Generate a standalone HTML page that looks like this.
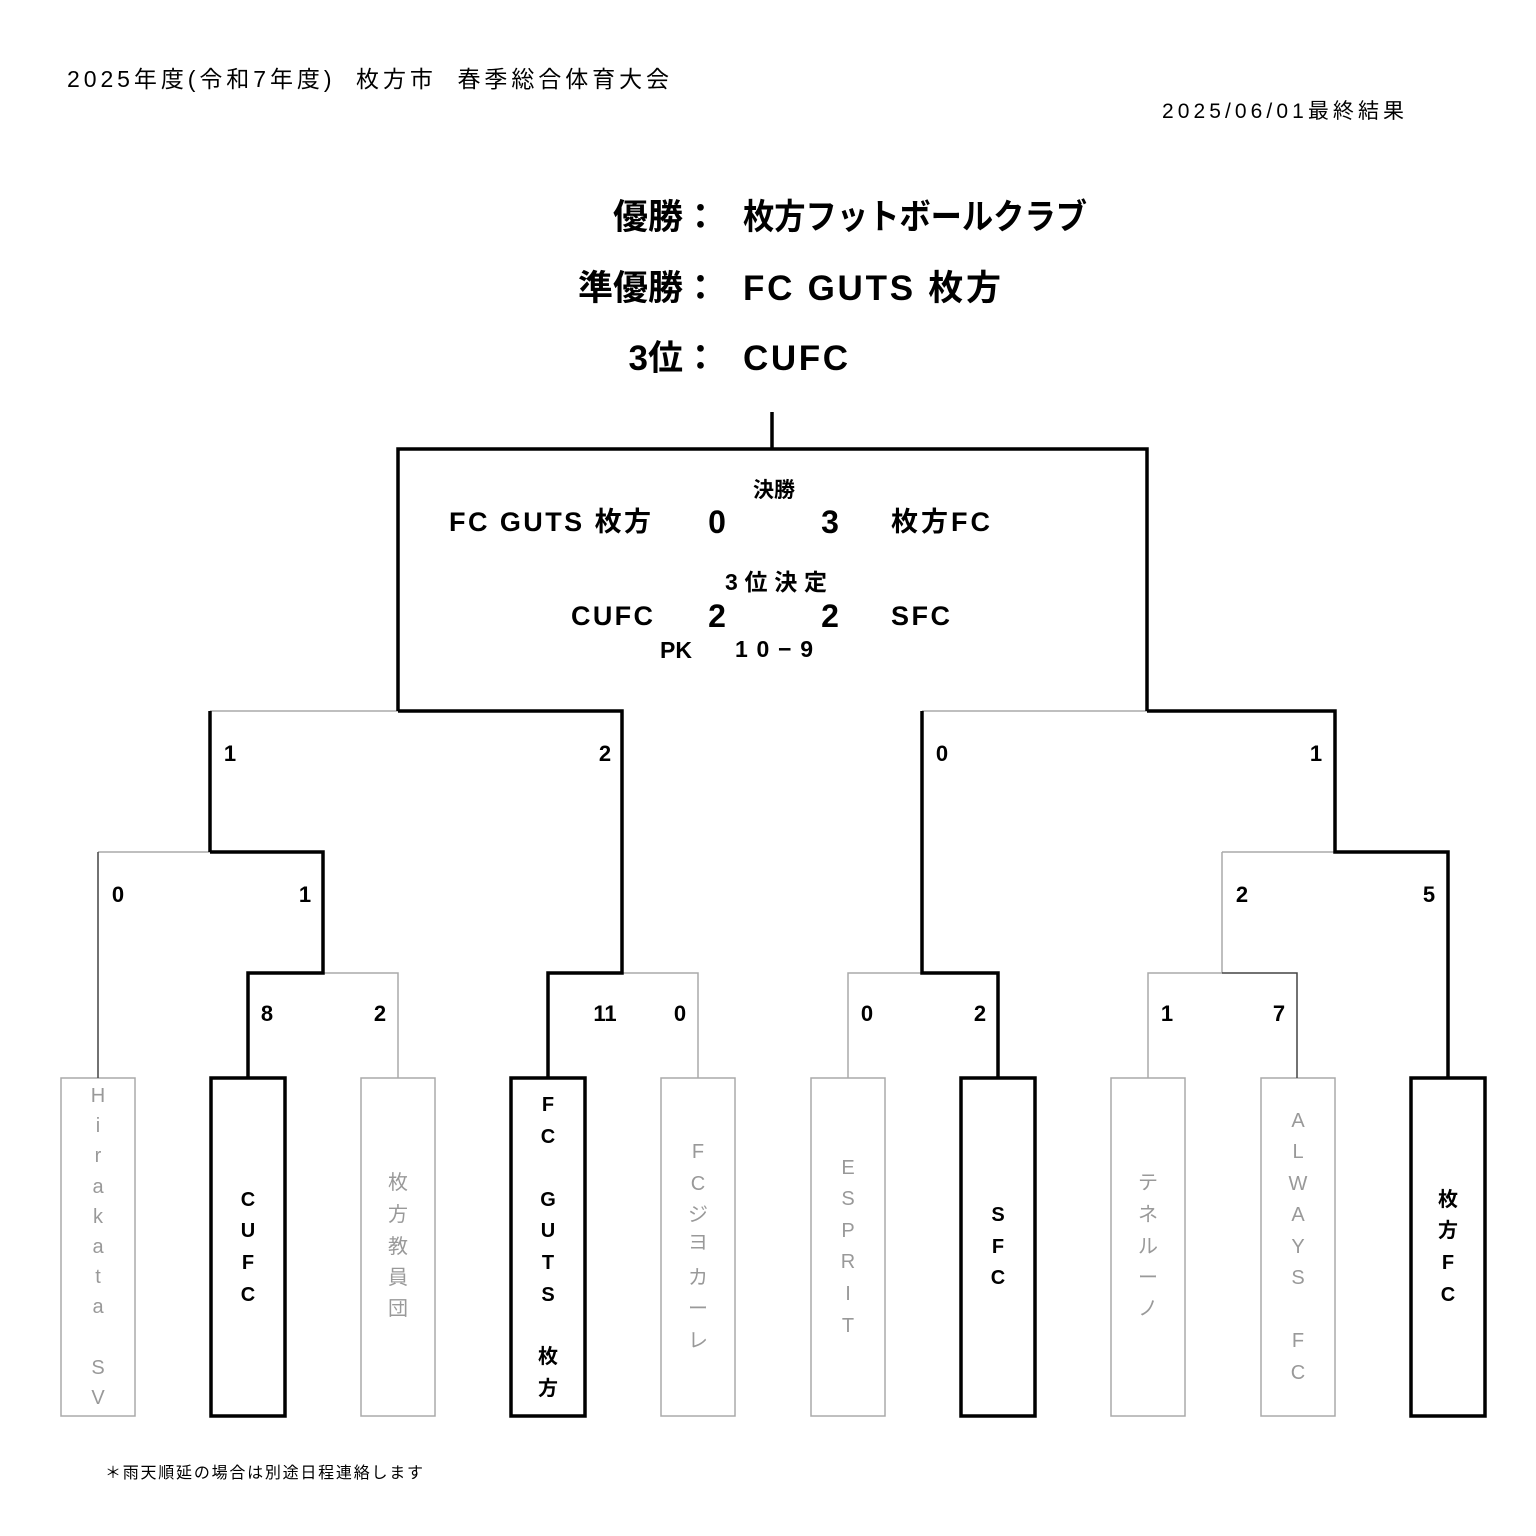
<!DOCTYPE html>
<html><head><meta charset="utf-8"><style>
body{margin:0;background:#fff}
svg{display:block}
text{font-family:"Liberation Sans","Noto Sans CJK JP",sans-serif}
.b{font-weight:bold}
.g{fill:#999}
</style></head><body>
<svg width="1536" height="1536" viewBox="0 0 1536 1536" xmlns="http://www.w3.org/2000/svg">
<text x="67" y="87" font-size="23" xml:space="preserve" textLength="602" lengthAdjust="spacing">2025年度(令和7年度)  枚方市  春季総合体育大会</text>
<text x="1162" y="118" font-size="21" textLength="242" lengthAdjust="spacing">2025/06/01最終結果</text>

<g class="b" font-size="35">
<text x="718" y="229" text-anchor="end">優勝：</text>
<text x="743" y="229" textLength="344" lengthAdjust="spacingAndGlyphs">枚方フットボールクラブ</text>
<text x="718" y="300" text-anchor="end">準優勝：</text>
<text x="743" y="300" textLength="258" lengthAdjust="spacing">FC GUTS 枚方</text>
<text x="718" y="370" text-anchor="end">3位：</text>
<text x="743" y="370" textLength="105" lengthAdjust="spacing">CUFC</text>
</g>

<g class="b" text-anchor="middle">
<text x="774" y="497" font-size="21">決勝</text>
<text x="449" y="531" font-size="27" text-anchor="start" textLength="202" lengthAdjust="spacing">FC GUTS 枚方</text>
<text x="717" y="533" font-size="32">0</text>
<text x="830" y="533" font-size="32">3</text>
<text x="891" y="531" font-size="27" text-anchor="start" textLength="99" lengthAdjust="spacing">枚方FC</text>
<text x="776" y="590" font-size="23" textLength="102" lengthAdjust="spacing">3位決定</text>
<text x="571" y="625" font-size="27" text-anchor="start" textLength="82" lengthAdjust="spacing">CUFC</text>
<text x="717" y="627" font-size="32">2</text>
<text x="830" y="627" font-size="32">2</text>
<text x="891" y="625" font-size="27" text-anchor="start" textLength="59" lengthAdjust="spacing">SFC</text>
<text x="676" y="658" font-size="23">PK</text>
<text x="774" y="657" font-size="23" textLength="78" lengthAdjust="spacing">10−9</text>
</g>

<g stroke="#aaa" stroke-width="1.5" fill="none">
<path d="M210 711H398M922 711H1147M98 852H210M1222 852H1335M1222 852V973M323 973H398V1078M622 973H698V1078M848 1078V973H922M1148 1078V973H1222"/>
<rect x="61" y="1078" width="74" height="338"/>
<rect x="361" y="1078" width="74" height="338"/>
<rect x="661" y="1078" width="74" height="338"/>
<rect x="811" y="1078" width="74" height="338"/>
<rect x="1111" y="1078" width="74" height="338"/>
<rect x="1261" y="1078" width="74" height="338"/>
</g>
<g stroke="#444" stroke-width="1.5" fill="none">
<path d="M98 852V1078M1222 973H1297V1078"/>
</g>
<g stroke="#000" stroke-width="3.5" fill="none">
<path d="M772 412V449M398 711V449H1147V711M398 711H622V973H548V1078M210 852V711M210 852H323V973H248V1078M1147 711H1335V852H1448V1078M922 711V973H998V1078"/>
<rect x="211" y="1078" width="74" height="338"/>
<rect x="511" y="1078" width="74" height="338"/>
<rect x="961" y="1078" width="74" height="338"/>
<rect x="1411" y="1078" width="74" height="338"/>
</g>

<g class="b" font-size="22" text-anchor="middle">
<text x="230" y="761">1</text><text x="605" y="761">2</text><text x="942" y="761">0</text><text x="1316" y="761">1</text>
<text x="118" y="902">0</text><text x="305" y="902">1</text><text x="1242" y="902">2</text><text x="1429" y="902">5</text>
<text x="267" y="1021">8</text><text x="380" y="1021">2</text><text x="605" y="1021">11</text><text x="680" y="1021">0</text>
<text x="867" y="1021">0</text><text x="980" y="1021">2</text><text x="1167" y="1021">1</text><text x="1279" y="1021">7</text>
</g>

<g font-size="20" text-anchor="middle" dominant-baseline="central">
<g class="g">
<text x="98" y="1096">H</text><text x="98" y="1126">i</text><text x="98" y="1156">r</text><text x="98" y="1187">a</text><text x="98" y="1217">k</text><text x="98" y="1247">a</text><text x="98" y="1277">t</text><text x="98" y="1307">a</text><text x="98" y="1368">S</text><text x="98" y="1398">V</text>
<text x="398" y="1183">枚</text><text x="398" y="1215">方</text><text x="398" y="1247">教</text><text x="398" y="1278">員</text><text x="398" y="1309">団</text>
<text x="698" y="1152">F</text><text x="698" y="1184">C</text><text x="698" y="1215">ジ</text><text x="698" y="1243">ヨ</text><text x="698" y="1278">カ</text><text x="698" y="1309">ー</text><text x="698" y="1341">レ</text>
<text x="848" y="1168">E</text><text x="848" y="1199">S</text><text x="848" y="1231">P</text><text x="848" y="1262">R</text><text x="848" y="1294">I</text><text x="848" y="1326">T</text>
<text x="1148" y="1183">テ</text><text x="1148" y="1215">ネ</text><text x="1148" y="1247">ル</text><text x="1148" y="1278">ー</text><text x="1148" y="1309">ノ</text>
<text x="1298" y="1121">A</text><text x="1298" y="1152">L</text><text x="1298" y="1184">W</text><text x="1298" y="1215">A</text><text x="1298" y="1247">Y</text><text x="1298" y="1278">S</text><text x="1298" y="1341">F</text><text x="1298" y="1373">C</text>
</g>
<g class="b">
<text x="248" y="1200">C</text><text x="248" y="1231">U</text><text x="248" y="1263">F</text><text x="248" y="1295">C</text>
<text x="548" y="1105">F</text><text x="548" y="1137">C</text><text x="548" y="1200">G</text><text x="548" y="1231">U</text><text x="548" y="1263">T</text><text x="548" y="1295">S</text><text x="548" y="1357">枚</text><text x="548" y="1389">方</text>
<text x="998" y="1215">S</text><text x="998" y="1247">F</text><text x="998" y="1278">C</text>
<text x="1448" y="1200">枚</text><text x="1448" y="1231">方</text><text x="1448" y="1263">F</text><text x="1448" y="1295">C</text>
</g>
</g>

<text x="105" y="1478" font-size="16" textLength="318" lengthAdjust="spacing">＊雨天順延の場合は別途日程連絡します</text>
</svg>
</body></html>
